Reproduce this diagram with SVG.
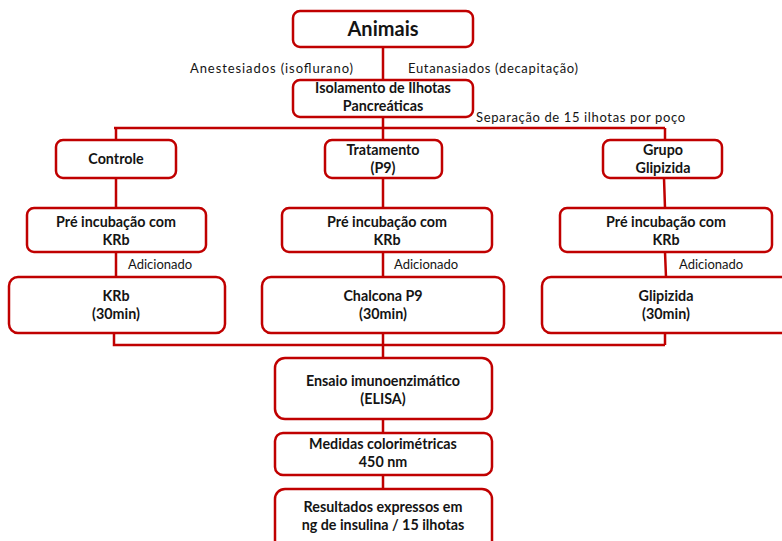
<svg xmlns="http://www.w3.org/2000/svg" width="782" height="541" viewBox="0 0 782 541">
<style>
.box{fill:#fff;stroke:#C00000;stroke-width:2.5}
.ln{fill:none;stroke:#C00000;stroke-width:2.5}
.t{font-family:Lato,"Liberation Sans",sans-serif;font-weight:bold;font-size:14.3px;fill:#141414;text-anchor:middle}
.big{font-size:20px}
.lb{font-family:Lato,"Liberation Sans",sans-serif;font-size:13px;fill:#141414}
</style>
<rect width="782" height="541" fill="#fff"/>
<g id="connectors">
<path class="ln" d="M383 47V80M383 117V128M114 128H665M116 128V140M383 128V140M665 128V140"/>
<path class="ln" d="M116 178V208M383 178V208M664 178L665 208"/>
<path class="ln" d="M116 252V277M383 252V277M665 252L666 277"/>
<path class="ln" d="M114 333V345H665M383 333V345M665 333V345M383 345V358M383 419V433M383 475V489"/>
</g>
<g id="labels">
<text class="lb" x="190" y="73" textLength="163">Anestesiados  (isoflurano)</text>
<text class="lb" x="408" y="73" textLength="170">Eutanasiados (decapitação)</text>
<text class="lb" x="476" y="122" textLength="209">Separação de 15 ilhotas por poço</text>
<text class="lb" x="128" y="269">Adicionado</text>
<text class="lb" x="394" y="269">Adicionado</text>
<text class="lb" x="679" y="269">Adicionado</text>
</g>
<g id="animais"><rect class="box" x="293" y="11" width="180" height="36" rx="7"/><text class="t big" x="383" y="36">Animais</text></g>
<g id="isolamento"><rect class="box" x="293" y="80" width="180" height="37" rx="7"/><text class="t" x="383" y="93">Isolamento de Ilhotas</text><text class="t" x="383" y="111">Pancreáticas</text></g>
<g id="controle"><rect class="box" x="56" y="140" width="120" height="38" rx="7"/><text class="t" x="116" y="164">Controle</text></g>
<g id="tratamento"><rect class="box" x="325" y="140" width="117" height="38" rx="7"/><text class="t" x="383" y="155">Tratamento</text><text class="t" x="383" y="173">(P9)</text></g>
<g id="grupo"><rect class="box" x="603" y="140" width="119" height="38" rx="7"/><text class="t" x="663" y="155">Grupo</text><text class="t" x="663" y="173">Glipizida</text></g>
<g id="pre1"><rect class="box" x="27" y="208" width="179" height="44" rx="7"/><text class="t" x="116" y="227">Pré incubação com</text><text class="t" x="116" y="245">KRb</text></g>
<g id="pre2"><rect class="box" x="282" y="208" width="210" height="44" rx="7"/><text class="t" x="387" y="227">Pré incubação com</text><text class="t" x="387" y="245">KRb</text></g>
<g id="pre3"><rect class="box" x="560" y="208" width="212" height="44" rx="7"/><text class="t" x="666" y="227">Pré incubação com</text><text class="t" x="666" y="245">KRb</text></g>
<g id="krb"><rect class="box" x="9" y="277" width="216" height="56" rx="9"/><text class="t" x="116" y="301">KRb</text><text class="t" x="116" y="319">(30min)</text></g>
<g id="chalcona"><rect class="box" x="262" y="277" width="242" height="56" rx="9"/><text class="t" x="383" y="301">Chalcona P9</text><text class="t" x="383" y="319">(30min)</text></g>
<g id="glipizida"><rect class="box" x="542" y="277" width="250" height="56" rx="9"/><text class="t" x="666" y="301">Glipizida</text><text class="t" x="666" y="319">(30min)</text></g>
<g id="ensaio"><rect class="box" x="275" y="358" width="217" height="61" rx="10"/><text class="t" x="383" y="386">Ensaio imunoenzimático</text><text class="t" x="383" y="404">(ELISA)</text></g>
<g id="medidas"><rect class="box" x="275" y="433" width="217" height="42" rx="8"/><text class="t" x="383" y="449">Medidas colorimétricas</text><text class="t" x="383" y="467">450 nm</text></g>
<g id="resultados"><rect class="box" x="275" y="489" width="217" height="62" rx="10"/><text class="t" x="383" y="512">Resultados expressos em</text><text class="t" x="383" y="530">ng de insulina / 15 ilhotas</text></g>
</svg>
